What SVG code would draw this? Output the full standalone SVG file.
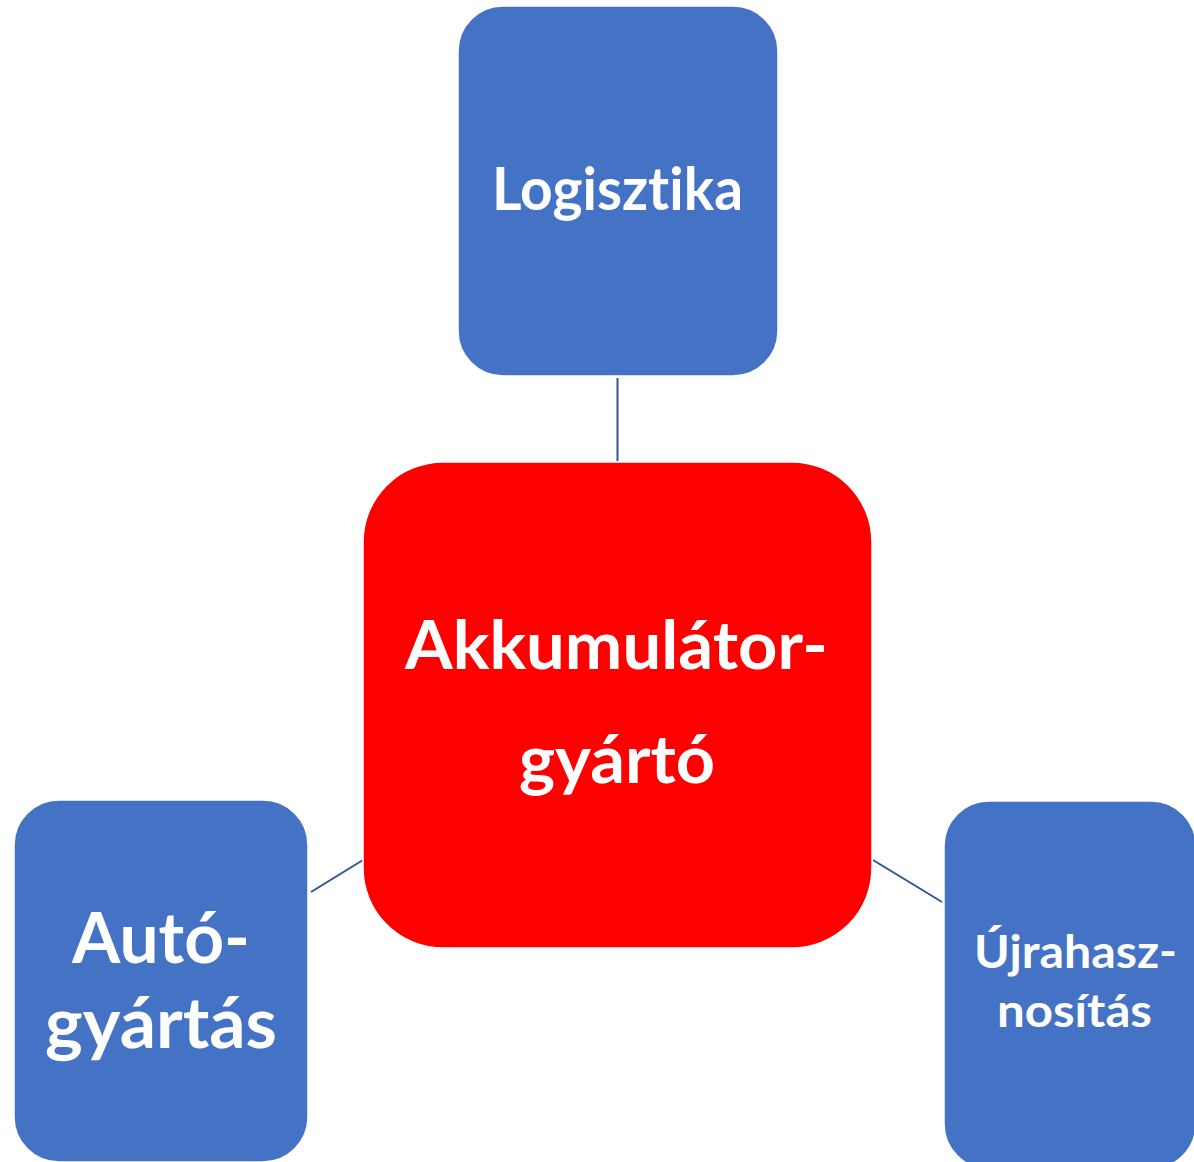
<svg xmlns="http://www.w3.org/2000/svg" width="1194" height="1162" viewBox="0 0 1194 1162">
<style>
.blue{fill:#4472C4;stroke:#ffffff;stroke-width:1.5}
.red{fill:#FF0000;stroke:#ffffff;stroke-width:1.5}
.lbl{font-family:"Lato","Open Sans","Liberation Sans",sans-serif;font-weight:700;fill:#ffffff;text-anchor:middle;font-variant-ligatures:none;font-feature-settings:"liga" 0,"dlig" 0}
.con{stroke:#2F5597;stroke-width:2;fill:none}
</style>
<rect width="1194" height="1162" fill="#ffffff"/>
<g id="connectors">
<line class="con" x1="617.5" y1="378" x2="617.5" y2="461"/>
<line class="con" x1="311" y1="892" x2="363" y2="860"/>
<line class="con" x1="873" y1="860" x2="942" y2="902"/>
</g>
<g id="node-logisztika">
<rect class="blue" x="458" y="6" width="320" height="370" rx="45" ry="45"/>
<text class="lbl" x="617.5" y="210" font-size="59" textLength="251" lengthAdjust="spacingAndGlyphs">Logisztika</text>
</g>
<g id="node-akkumulator">
<rect class="red" x="363" y="462" width="509" height="486" rx="80" ry="80"/>
<text class="lbl" x="616.5" y="669" font-size="66" textLength="423" lengthAdjust="spacingAndGlyphs">Akkumulátor-</text>
<text class="lbl" x="617" y="783" font-size="66" textLength="196" lengthAdjust="spacingAndGlyphs">gyártó</text>
</g>
<g id="node-autogyartas">
<rect class="blue" x="14" y="800" width="294" height="362" rx="45" ry="45"/>
<text class="lbl" x="161" y="963" font-size="70" textLength="178" lengthAdjust="spacingAndGlyphs">Autó-</text>
<text class="lbl" x="161" y="1048" font-size="70" textLength="232" lengthAdjust="spacingAndGlyphs">gyártás</text>
</g>
<g id="node-ujrahasznositas">
<rect class="blue" x="944" y="801" width="252" height="368" rx="45" ry="45"/>
<text class="lbl" x="1075.5" y="968" font-size="45" textLength="203" lengthAdjust="spacingAndGlyphs">Újrahasz-</text>
<text class="lbl" x="1074.5" y="1027" font-size="45" textLength="155" lengthAdjust="spacingAndGlyphs">nosítás</text>
</g>
</svg>
